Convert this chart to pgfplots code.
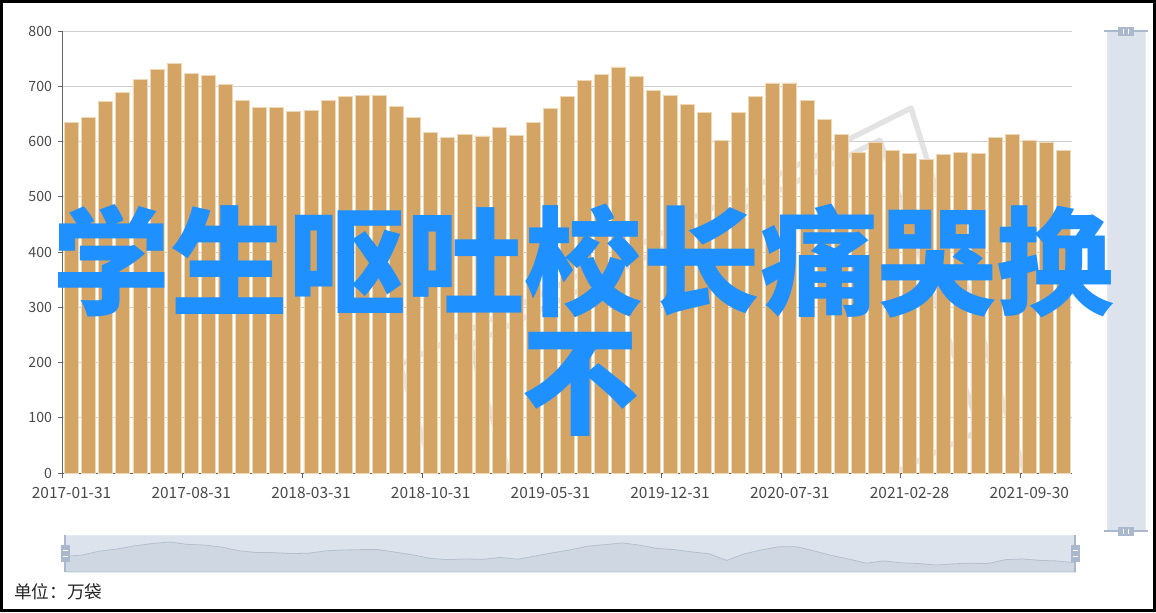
\documentclass[border=0pt]{standalone}
\usepackage{fontspec}
\setmainfont{Noto Sans CJK SC}
\usepackage{pgfplots}
\pgfplotsset{compat=1.18}
\definecolor{barc}{HTML}{D4A464}
\definecolor{baredge}{HTML}{EFD8B6}
\definecolor{axisc}{HTML}{666666}
\definecolor{gridc}{HTML}{CFCFCF}
\definecolor{labelc}{HTML}{4A4A4A}
\definecolor{bluec}{HTML}{1E90FF}
\definecolor{sliderbg}{HTML}{DDE3ED}
\definecolor{shadowfill}{HTML}{CFD7E2}
\definecolor{shadowline}{HTML}{B5C0CF}
\definecolor{handlec}{HTML}{A9B8CD}
\pgfplotstableread{
x y
0 634
1 643
2 673
3 689
4 713
5 730
6 742
7 724
8 719
9 703
10 675
11 662
12 661
13 654
14 657
15 675
16 681
17 684
18 684
19 664
20 644
21 617
22 608
23 613
24 610
25 625
26 611
27 635
28 660
29 682
30 710
31 722
32 735
33 718
34 693
35 684
36 667
37 652
38 602
39 652
40 682
41 706
42 706
43 675
44 640
45 613
46 581
47 598
48 584
49 579
50 567
51 576
52 581
53 578
54 608
55 613
56 602
57 598
58 584
}\datatable
\begin{document}
\begin{tikzpicture}
\begin{scope}[x=0.75pt,y=-0.75pt]
\useasboundingbox (0,0) rectangle (1156,612);
\fill[white] (0,0) rectangle (1156,612);
% faint watermark behind bars
\begin{scope}
\clip (63,31) rectangle (1072,473);
\draw[line width=4pt, color=black!11, line join=round] (911,108) -- (400,365) -- (514,730) -- (1025,473) -- cycle;
\draw[line width=4pt, color=black!11, line join=round] (880,140) -- (470,345) -- (560,640) -- (980,430) -- cycle;
\end{scope}
\end{scope}

\begin{axis}[
 at={(47.25pt,-354.75pt)}, anchor=south west,
 scale only axis, width=756.75pt, height=331.5pt,
 xmin=-0.5, xmax=58.5, ymin=0, ymax=800,
 ybar, bar width=0.82,
 axis x line*=bottom, axis y line*=left,
 axis line style={draw=axisc, line width=0.75pt},
 ytick={0,100,...,800},
 ymajorgrids, grid style={draw=gridc, line width=0.75pt},
 tick align=outside,
 major tick length=3.75pt,
 tick style={draw=axisc, line width=0.75pt},
 xtick={-0.5,6.5,...,55.5}, xticklabel=\empty,
 extra x ticks={0,7,...,56},
 extra x tick labels={2017-01-31,2017-08-31,2018-03-31,2018-10-31,2019-05-31,2019-12-31,2020-07-31,2021-02-28,2021-09-30},
 extra x tick style={major tick length=0pt, grid=none,
   xticklabel style={font=\fontsize{11.6}{13}\selectfont, text=labelc, yshift=-7.5pt}},
 yticklabel style={font=\fontsize{10.6}{12}\selectfont, text=labelc, xshift=-1pt},
 /pgf/number format/assume math mode=true,
]
\addplot[fill=barc, draw=baredge, line width=0.6pt] table[x=x,y=y] {\datatable};
\end{axis}

\begin{scope}[x=0.75pt,y=-0.75pt]
% bottom slider background
\fill[sliderbg] (65,535) rectangle (1075,572);
\end{scope}

\begin{axis}[
 at={(48.75pt,-429pt)}, anchor=south west,
 scale only axis, width=757.5pt, height=27.75pt,
 xmin=0, xmax=58, ymin=514, ymax=795,
 hide axis,
]
\addplot[fill=shadowfill, draw=shadowline, line width=0.6pt] table[x=x,y=y] {\datatable} \closedcycle;
\end{axis}

\begin{scope}[x=0.75pt,y=-0.75pt]
\draw[sliderbg!80!white, line width=0.75pt] (65,535) rectangle (1075,572);
% left/right handles of bottom slider
\foreach \hx in {65,1075}{
 \draw[handlec, line width=1.5pt] (\hx,535) -- (\hx,572);
 \fill[handlec] (\hx-4.5,545) rectangle (\hx+4.5,562);
 \draw[white, line width=0.9pt] (\hx-2.5,550.5) -- (\hx+2.5,550.5);
 \draw[white, line width=0.9pt] (\hx-2.5,556.5) -- (\hx+2.5,556.5);
}
% vertical slider
\fill[sliderbg] (1107,31) rectangle (1145,531);
\draw[sliderbg!80!white, line width=0.75pt] (1107,31) rectangle (1145,531);
\foreach \hy in {31,531}{
 \draw[handlec, line width=1.5pt] (1104,\hy) -- (1148,\hy);
 \fill[handlec] (1118,\hy-4.5) rectangle (1134,\hy+4.5);
 \draw[white, line width=0.9pt] (1123.5,\hy-2.5) -- (1123.5,\hy+2.5);
 \draw[white, line width=0.9pt] (1128.5,\hy-2.5) -- (1128.5,\hy+2.5);
}
% unit label
\node[anchor=west, inner sep=0pt, text=black!85, font=\fontsize{13.2}{15}\selectfont] at (14,592) {单位：万袋};
% blue overlay text
\node[anchor=base, inner sep=0pt, text=bluec, font=\fontsize{88.5}{100}\selectfont\bfseries] at (583,306) {学生呕吐校长痛哭换};
\node[anchor=base, inner sep=0pt, text=bluec, font=\fontsize{88.5}{100}\selectfont\bfseries] at (580,425) {不};
% frame
\draw[black, line width=2.25pt] (1.5,1.5) rectangle (1154.5,610.5);
\end{scope}
\end{tikzpicture}
\end{document}
